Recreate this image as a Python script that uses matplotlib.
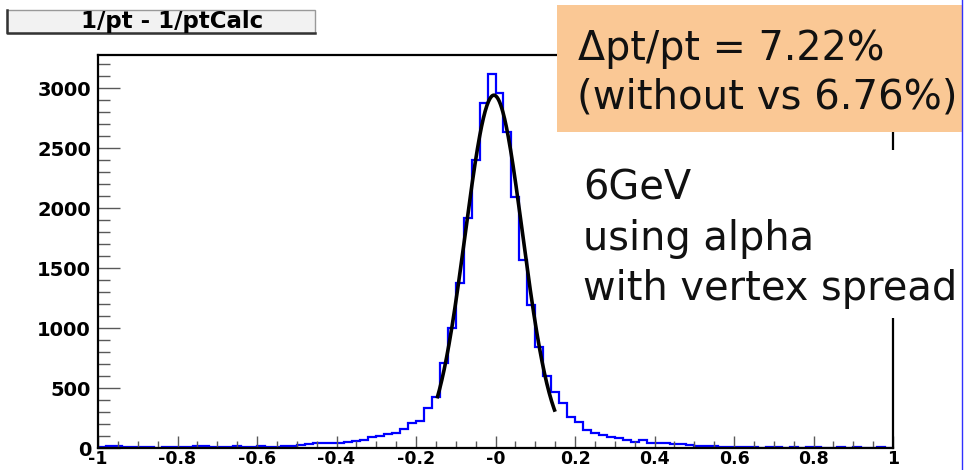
import numpy as np
import matplotlib
matplotlib.use("Agg")
import matplotlib.pyplot as plt
from matplotlib.patches import Rectangle
from matplotlib.lines import Line2D
from matplotlib.ticker import MultipleLocator

# histogram: 100 bins of 0.02 between -1 and 1
bin_lo, bin_hi, n_bins = -1.0, 1.0, 100
counts = [
    8, 15, 14, 6, 5, 10, 6, 4, 12, 10,
    12, 8, 14, 18, 12, 10, 8, 14, 12, 6,
    16, 10, 12, 18, 20, 25, 30, 38, 40, 40,
    42, 48, 55, 67, 88, 98, 118, 128, 155, 210,
    225, 330, 428, 706, 1000, 1372, 1917, 2400, 2873, 3120,
    2958, 2636, 2094, 1567, 1192, 842, 600, 469, 372, 261,
    219, 150, 125, 112, 94, 80, 67, 53, 67, 39,
    39, 38, 36, 30, 22, 20, 18, 15, 10, 8,
    6, 9, 5, 4, 7, 5, 3, 6, 4, 8,
    5, 3, 4, 6, 3, 5, 4, 3, 5, 4,
]

# gaussian fit drawn over the core
fit_amp, fit_mean, fit_sigma = 2940, -0.004, 0.0722
fit_range = (-0.147, 0.150)

x_ticks = [-1, -0.8, -0.6, -0.4, -0.2, 0, 0.2, 0.4, 0.6, 0.8, 1]
x_labels = ["-1", "-0.8", "-0.6", "-0.4", "-0.2", "-0", "0.2", "0.4", "0.6", "0.8", "1"]
y_ticks = [0, 500, 1000, 1500, 2000, 2500, 3000]

title = "1/pt - 1/ptCalc"
box_lines = ["\u0394pt/pt = 7.22%", "(without vs 6.76%)"]
note_lines = ["6GeV", "using alpha", "with vertex spread"]

W, H = 965, 470


def fx(px):
    return px / W


def fy(py):
    return 1 - py / H


fig = plt.figure(figsize=(9.65, 4.7), dpi=100)
ax = fig.add_axes([fx(98), fy(448), (893 - 98) / W, (448 - 55) / H])

edges = np.linspace(bin_lo, bin_hi, n_bins + 1)
ax.stairs(counts, edges, color="#0000ff", lw=1.6)

xf = np.linspace(fit_range[0], fit_range[1], 200)
yf = fit_amp * np.exp(-0.5 * ((xf - fit_mean) / fit_sigma) ** 2)
ax.plot(xf, yf, color="black", lw=2.6, solid_capstyle="butt")

ax.set_xlim(-1, 1)
ax.set_ylim(0, 3275)
ax.set_xticks(x_ticks)
ax.set_xticklabels(x_labels)
ax.set_yticks(y_ticks)
ax.xaxis.set_minor_locator(MultipleLocator(0.05))
ax.yaxis.set_minor_locator(MultipleLocator(100))

for s in ax.spines.values():
    s.set_linewidth(1.6)
    s.set_color("black")

ax.tick_params(axis="both", which="both", direction="in", top=False, right=False,
               color="0.35", width=1)
ax.tick_params(axis="x", which="major", length=9, pad=1.5)
ax.tick_params(axis="x", which="minor", length=5)
ax.tick_params(axis="y", which="major", length=16, pad=5)
ax.tick_params(axis="y", which="minor", length=8.5)

for lab in ax.get_yticklabels():
    lab.set_fontweight("bold")
    lab.set_fontsize(14)
    lab.set_family("DejaVu Sans")
for lab in ax.get_xticklabels():
    lab.set_fontweight("bold")
    lab.set_fontsize(12.5)
    lab.set_family("DejaVu Sans")

# title box, ROOT style
fig.add_artist(Rectangle((fx(7), fy(33)), (315 - 7) / W, (33 - 10) / H,
                         transform=fig.transFigure, facecolor="#f2f2f2",
                         edgecolor="0.6", lw=1))
fig.add_artist(Line2D([fx(7), fx(7), fx(315)], [fy(10), fy(33), fy(33)],
                      transform=fig.transFigure, color="0.2", lw=1.8))
fig.text(fx(172), fy(21.5), title, ha="center", va="center",
         fontsize=16.5, fontweight="bold", family="DejaVu Sans")

# orange result box
fig.add_artist(Rectangle((fx(557), fy(132)), (962 - 557) / W, (132 - 5) / H,
                         transform=fig.transFigure, facecolor="#fac895",
                         edgecolor="none"))
fig.text(fx(578), fy(60), box_lines[0], ha="left", va="baseline",
         fontsize=28.5, color="#111111", family="DejaVu Sans")
fig.text(fx(577), fy(108), box_lines[1], ha="left", va="baseline",
         fontsize=29, color="#111111", family="DejaVu Sans")

# note with white background covering the frame
fig.add_artist(Rectangle((fx(575), fy(318)), (962 - 575) / W, (318 - 150) / H,
                         transform=fig.transFigure, facecolor="white",
                         edgecolor="none"))
for i, line in enumerate(note_lines):
    fig.text(fx(583), fy(200 + 50 * i), line, ha="left", va="baseline",
             fontsize=28.7, color="#111111", family="DejaVu Sans")

# thin blue edge at the right of the screenshot
fig.add_artist(Line2D([fx(962), fx(962)], [0, 1], transform=fig.transFigure,
                      color="#3030ff", lw=1))

fig.savefig("out.png", dpi=100)
